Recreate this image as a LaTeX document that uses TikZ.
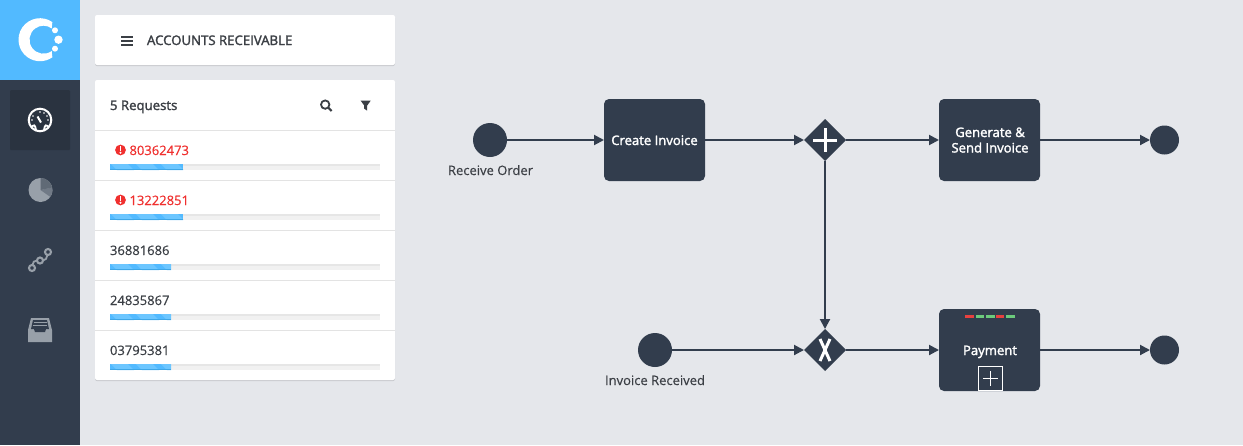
\documentclass[tikz,border=0pt]{standalone}
\usepackage{fontspec}
\setmainfont{Open Sans}
\newfontfamily\semi[FakeBold=2]{Open Sans}
\newfontfamily\slight[FakeBold=0.4]{Open Sans}
\usetikzlibrary{shapes.geometric,arrows.meta}
\definecolor{bgc}{HTML}{E5E7EB}
\definecolor{navy}{HTML}{323D4D}
\definecolor{navyd}{HTML}{2A3340}
\definecolor{sky}{HTML}{52BAFF}
\definecolor{skyl}{HTML}{6CC6FF}
\definecolor{skyd}{HTML}{3FA6E6}
\definecolor{iconc}{HTML}{98A0A9}
\definecolor{ink}{HTML}{3B3F45}
\definecolor{alert}{HTML}{F0302F}
\definecolor{sepc}{HTML}{E3E3E3}
\definecolor{track}{HTML}{F1F1F1}
\definecolor{trackd}{HTML}{E6E6E6}
\definecolor{shade}{HTML}{C6C8CC}
\definecolor{okg}{HTML}{6CCB7C}
\definecolor{bad}{HTML}{E8413F}
\tikzset{
  x=1pt,y=-1pt,
  every node/.style={inner sep=0pt,outer sep=0pt,font=\slight\fontsize{13}{15}\selectfont},
  panel/.style={fill=white,rounded corners=2pt,draw=none},
  panelshade/.style={fill=shade,rounded corners=2pt,draw=none},
  sepline/.style={draw=sepc,line width=1pt},
  tracker/.style={fill=track,draw=none},
  fillbar/.style={fill=sky,draw=none},
  stripe/.style={fill=skyl,draw=none},
  rowtext/.style={anchor=base west,text=ink},
  redtext/.style={anchor=base west,text=alert},
  headtext/.style={anchor=base west,text=ink,font=\semi\fontsize{13.2}{15}\selectfont},
  evt/.style={circle,fill=navy,draw=none},
  task/.style={rectangle,rounded corners=5pt,fill=navy,draw=none,minimum width=101pt,minimum height=82pt,text=white,align=center},
  tasktext/.style={anchor=base,text=white,font=\semi\fontsize{13.1}{15}\selectfont},
  gate/.style={diamond,aspect=1,fill=navy,draw=none,minimum width=42pt,minimum height=42pt},
  lbl/.style={anchor=base,text=ink},
  flow/.style={draw=navy,line width=2pt,-{Triangle[length=10pt,width=10pt]}},
  glyph/.style={draw=white,line width=3pt},
  sideicon/.style={draw=iconc,line width=2.1pt},
}
\newcommand{\barrow}[2]{%
  \fill[tracker] (110,#1) rectangle (380,#1+6);
  \fill[trackd] (110,#1) rectangle (380,#1+1.5);
  \fill[fillbar] (110,#1) rectangle (#2,#1+6);
  \begin{scope}
    \clip (110,#1) rectangle (#2,#1+6);
    \foreach \s in {0,1,2,3}{
      \fill[stripe] (118+\s*25-7,#1) -- (118+\s*25+10,#1) -- (118+\s*25+16,#1+6) -- (118+\s*25-1,#1+6) -- cycle;
    }
    \fill[skyd] (110,#1+5) rectangle (#2,#1+6);
  \end{scope}
}
\newcommand{\alerticon}[1]{%
  \fill[alert] (120.5,#1) circle[radius=5.4];
  \fill[white] (119.6,#1-3.6) rectangle (121.4,#1+1);
  \fill[white] (120.5,#1+2.7) circle[radius=1.1];
}
\begin{document}
\begin{tikzpicture}
\useasboundingbox (0,0) rectangle (1243,445);
\fill[bgc] (0,0) rectangle (1243,445);
% sidebar
\fill[navy] (0,0) rectangle (80,445);
\fill[sky] (0,0) rectangle (80,80);
\fill[navyd,rounded corners=1pt] (10,90) rectangle (70,150);
% logo
\begin{scope}[shift={(40,39.7)},yscale=-1]
  \fill[white] (55:21.5) arc[start angle=55,end angle=305,radius=21.5]
    -- (11.73,-11.33) arc[start angle=306,end angle=54,radius=14] -- cycle;
\end{scope}
\fill[white] (55,30.3) circle[radius=3];
\fill[white] (58.5,39.7) circle[radius=4.2];
\fill[white] (55,48.7) circle[radius=3];
% gauge icon
\draw[white,line width=2pt] (40,120) circle[radius=11.3];
\draw[white,line width=1.8pt] (31,127.5) .. controls (34,124.5) and (35,124) .. (36,130);
\draw[white,line width=1.8pt] (49,127.5) .. controls (46,124.5) and (45,124) .. (44,130);
\draw[white,line width=2pt] (37.5,116.5) -- (41,122.5);
\foreach \a in {30,60,90,150,180,0}{\fill[white] (40+8*cos \a,120-8*sin \a) circle[radius=0.9];}
% pie icon
\begin{scope}[shift={(40.5,190)},yscale=-1]
  \fill[iconc] (0,0) circle[radius=12];
  \fill[iconc!62!navy] (0,0) -- (12:12) arc[start angle=12,end angle=-35,radius=12] -- cycle;
  \fill[iconc!45!navy] (0,0) -- (90:12) arc[start angle=90,end angle=12,radius=12] -- cycle;
\end{scope}
% path icon
\draw[sideicon] (32,268) circle[radius=3];
\draw[sideicon] (40,260.5) circle[radius=3];
\draw[sideicon] (48,252) circle[radius=3];
\draw[sideicon,line width=1.8pt] (32.5,265) .. controls (33,262) and (34,260.5) .. (37,260.5);
\draw[sideicon,line width=1.8pt] (43,260.5) .. controls (45.5,260.5) and (47,258) .. (47.5,255);
% inbox icon
\fill[iconc] (28,330) -- (31,318) -- (49,318) -- (52,330) -- (52,342) -- (28,342) -- cycle;
\fill[navy] (31,329) -- (33,320) -- (47,320) -- (49,329) -- (46,329) -- (45,332) -- (35,332) -- (34,329) -- cycle;
\fill[iconc] (33.5,322) rectangle (46.5,323.2);
\fill[iconc] (33,325) rectangle (47,326.2);
% panels
\fill[panelshade] (95,16) rectangle (395,66);
\fill[panel] (95,15) rectangle (395,65);
\fill[panelshade] (95,81) rectangle (395,381);
\fill[panel] (95,80) rectangle (395,380);
% header
\fill[ink] (121,36) rectangle (133,37.6);
\fill[ink] (121,40) rectangle (133,41.6);
\fill[ink] (121,44) rectangle (133,45.6);
\node[headtext] (title) at (147,45) {ACCOUNTS RECEIVABLE};
\node[headtext] (count) at (110,110) {5 Requests};
% search, filter
\draw[ink,line width=1.8pt] (325.2,104.6) circle[radius=4.2];
\draw[ink,line width=2.2pt] (328.4,107.8) -- (331.6,111);
\fill[ink] (360.7,100.7) -- (370.7,100.7) -- (367.2,105.5) -- (367.2,110.7) -- (364.2,108.7) -- (364.2,105.5) -- cycle;
% separators
\foreach \y in {130.5,180.5,230.5,280.5,330.5}{\draw[sepline] (95,\y) -- (395,\y);}
% rows
\alerticon{150}
\node[redtext] (r1) at (129.5,155) {80362473};
\barrow{164}{183}
\alerticon{200}
\node[redtext] (r2) at (129.5,205) {13222851};
\barrow{214}{183}
\node[rowtext] (r3) at (110,255) {36881686};
\barrow{264}{171}
\node[rowtext] (r4) at (110,305) {24835867};
\barrow{314}{171}
\node[rowtext] (r5) at (110,355) {03795381};
\barrow{364}{171}
% diagram nodes
\node[evt,minimum size=34pt] (start1) at (490,140) {};
\node[task] (create) at (654.5,140) {};
\node[gate] (split) at (825,140) {};
\node[task] (generate) at (989.5,140) {};
\node[evt,minimum size=29pt] (end1) at (1164.5,140) {};
\node[evt,minimum size=34pt] (start2) at (655,350) {};
\node[gate] (join) at (825,350) {};
\node[task] (payment) at (989.5,350) {};
\node[evt,minimum size=29pt] (end2) at (1164.5,350) {};
% connectors
\draw[flow] (start1) -- (create);
\draw[flow] (create) -- (split);
\draw[flow] (split) -- (generate);
\draw[flow] (generate) -- (end1);
\draw[flow] (start2) -- (join);
\draw[flow] (join) -- (payment);
\draw[flow] (payment) -- (end2);
\draw[flow] (split) -- (join);
% task text
\node[tasktext] (t1) at (654.5,145) {Create Invoice};
\node[tasktext] (t2) at (990,137) {Generate \&};
\node[tasktext] (t3) at (990,152.5) {Send Invoice};
\node[tasktext] (t4) at (990,355) {Payment};
% labels
\node[lbl] (l1) at (490.5,175) {Receive Order};
\node[lbl] (l2) at (655,385) {Invoice Received};
% gate glyphs
\draw[glyph] (813,140) -- (837,140);
\draw[glyph] (825,128) -- (825,152);
\draw[glyph] (820,339) -- (830,361);
\draw[glyph] (830,339) -- (820,361);
% payment details
\fill[bad] (965,315) rectangle (974,318);
\fill[okg] (975.5,315) rectangle (984,318);
\fill[okg] (986,315) rectangle (994.5,318);
\fill[bad] (996,315) rectangle (1004,318);
\fill[okg] (1006,315) rectangle (1015,318);
\draw[white,line width=1.1pt] (978.5,366.5) rectangle (1002.5,390.5);
\draw[white,line width=1.4pt] (983,378.5) -- (998,378.5);
\draw[white,line width=1.4pt] (990.5,371) -- (990.5,386);
\end{tikzpicture}
\end{document}
